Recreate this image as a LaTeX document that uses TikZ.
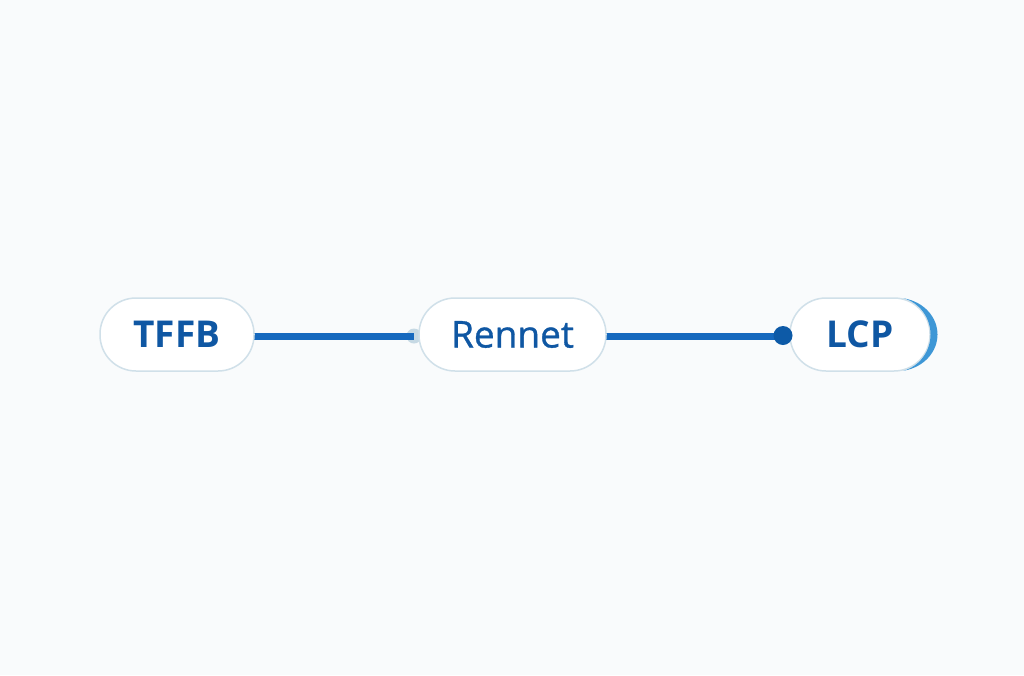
\documentclass[tikz,border=0pt]{standalone}
\usepackage{fontspec}
\setmainfont{Open Sans}
\newfontfamily\semib[FakeBold=0.9]{Open Sans}
\definecolor{bgc}{HTML}{F9FBFC}
\definecolor{edgec}{HTML}{1669BE}
\definecolor{txtc}{HTML}{0F57A3}
\definecolor{bordc}{HTML}{D0E0E9}
\definecolor{dotc}{HTML}{0D5AA7}
\definecolor{softc}{HTML}{C6D9E4}
\definecolor{arcc}{HTML}{3E97D6}
\tikzset{
  pill/.style={draw=bordc, line width=1.5pt, fill=white, rounded corners=36pt,
    minimum height=73pt, inner sep=0pt, text=txtc},
  boldtxt/.style={font=\fontsize{37}{40}\selectfont\bfseries},
  medtxt/.style={font=\fontsize{37}{40}\selectfont\semib},
  link/.style={draw=edgec, line width=7pt},
}
\begin{document}
\begin{tikzpicture}[x=1pt,y=-1pt]
\fill[bgc] (0,0) rectangle (1024,675);
\useasboundingbox (0,0) rectangle (1024,675);
% connectors first
\coordinate (c1) at (254,336);
\node[circle, fill=softc, minimum size=15pt, inner sep=0pt] (soft) at (414,336) {};
\draw[link] (c1) -- (soft.center);
\draw[link] (606,336) coordinate (c2) -- (783,336) coordinate (c3);
% nodes
\node[pill, boldtxt, minimum width=154pt] (tffb) at (177,334.5) {TFFB};
\node[pill, medtxt, minimum width=187pt] (rennet) at (512.5,334.5) {Rennet};
\node[pill, boldtxt, minimum width=140pt] (lcp) at (860,334.5) {LCP};
% dark dot at LCP
\node[circle, fill=dotc, minimum size=19pt, inner sep=0pt] (dot) at (783,335.5) {};
% crescent on LCP
\fill[arcc] (903.4,298.2) .. controls (925,302) and (937.5,318) .. (937.5,334.5)
  .. controls (937.5,351) and (925,367) .. (903.4,370.8)
  .. controls (920,366) and (930.5,351) .. (930.5,334.5)
  .. controls (930.5,318) and (920,303) .. (903.4,298.2) -- cycle;
\end{tikzpicture}
\end{document}
